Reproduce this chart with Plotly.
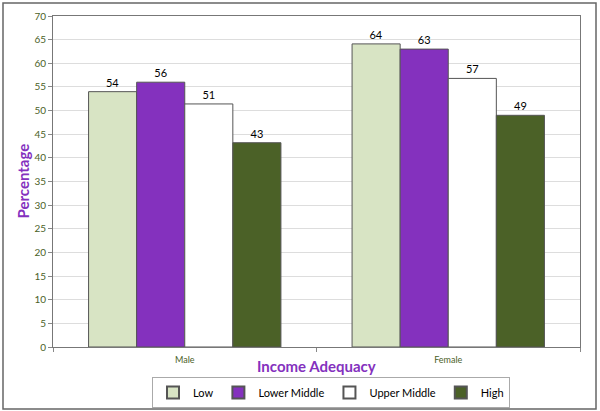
import plotly.graph_objects as go

categories = ["Male", "Female"]
series_names = ["Low", "Lower Middle", "Upper Middle", "High"]
low = [54.0, 64.1]
lower_middle = [56.0, 63.0]
upper_middle = [51.4, 56.8]
high = [43.2, 49.0]
values = [low, lower_middle, upper_middle, high]
colors = ["#d8e4c4", "#8431be", "#ffffff", "#4b6127"]

fig = go.Figure()
for name, vals, col in zip(series_names, values, colors):
    fig.add_trace(go.Bar(
        name=name, x=categories, y=vals,
        marker=dict(color=col, line=dict(color="#555555", width=1)),
        text=[f"{v:.0f}" for v in vals], textposition="outside",
        textfont=dict(size=11, color="#000000", family="Lato"),
        cliponaxis=False,
    ))

fig.update_layout(
    width=600, height=411,
    barmode="group", bargap=0.27, bargroupgap=0,
    paper_bgcolor="white", plot_bgcolor="white",
    margin=dict(l=53, r=20, t=16, b=64, autoexpand=False),
    font=dict(family="Lato", color="#4b6127"),
    showlegend=True,
    legend=dict(
        orientation="h", x=152 / 600, xanchor="left", xref="container",
        y=1 - 377 / 411, yanchor="top", yref="container",
        bordercolor="#aaaaaa", borderwidth=1,
        font=dict(size=11, color="#000000", family="Lato"),
        itemsizing="constant", traceorder="normal",
        itemwidth=30, tracegroupgap=0,
    ),
    yaxis=dict(
        range=[0, 70], dtick=5, showgrid=True, gridcolor="#dddddd",
        ticks="outside", ticklen=4, tickcolor="#888888",
        tickfont=dict(size=10, color="#4b6127"),
        showline=True, linecolor="#777777", linewidth=1, mirror=True,
        zeroline=False,
    ),
    xaxis=dict(
        tickson="boundaries", ticks="outside", ticklen=4, tickcolor="#888888",
        tickfont=dict(size=9, color="#4b6127"), ticklabelstandoff=4,
        showline=True, linecolor="#777777", linewidth=1, mirror=True,
    ),
    annotations=[
        dict(text="<b>Income Adequacy</b>", xref="paper", yref="paper",
             x=(316 - 53) / 527, y=(347 - 366) / 331, showarrow=False,
             xanchor="center", yanchor="middle",
             font=dict(size=15, color="#8431be", family="Lato")),
        dict(text="<b>Percentage</b>", xref="paper", yref="paper",
             x=(22 - 53) / 527, y=0.5, showarrow=False, textangle=-90,
             xanchor="center", yanchor="middle",
             font=dict(size=15, color="#8431be", family="Lato")),
    ],
    shapes=[
        dict(type="rect", xref="paper", yref="paper",
             x0=(3 - 53) / 527, x1=(596 - 53) / 527,
             y0=(347 - 409) / 331, y1=(347 - 3) / 331,
             line=dict(color="#666666", width=1.5), fillcolor="rgba(0,0,0,0)",
             layer="below"),
    ],
)

fig.write_html("out.html", config={"displayModeBar": False},
               post_script="document.body.style.margin='0';")
